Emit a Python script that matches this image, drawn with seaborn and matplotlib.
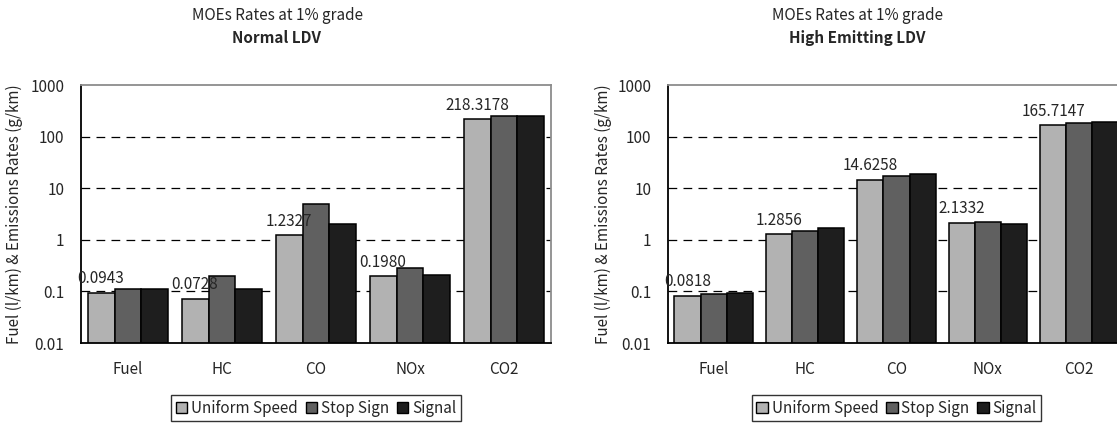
import matplotlib
matplotlib.use("Agg")
import matplotlib.pyplot as plt
import matplotlib.ticker as mticker
import seaborn as sns
import pandas as pd

# values (log scale)
categories = ['Fuel', 'HC', 'CO', 'NOx', 'CO2']
scenarios = ['Uniform Speed', 'Stop Sign', 'Signal']

normal_uniform = [0.0943, 0.0728, 1.2327, 0.1980, 218.3178]
normal_stop = [0.111, 0.196, 5.0, 0.284, 249.0]
normal_signal = [0.111, 0.111, 2.05, 0.208, 249.0]

high_uniform = [0.0818, 1.2856, 14.6258, 2.1332, 165.7147]
high_stop = [0.089, 1.50, 17.3, 2.21, 187.0]
high_signal = [0.093, 1.69, 19.0, 2.02, 188.0]

y_ticks = [0.01, 0.1, 1, 10, 100, 1000]
y_ticklabels = ['0.01', '0.1', '1', '10', '100', '1000']

colors = ['#b2b2b2', '#606060', '#1e1e1e']
subtitle = 'MOEs Rates at 1% grade'
ylabel = 'Fuel (l/km) & Emissions Rates (g/km)'
fs = 11


def make_frame(uniform, stop, signal):
    rows = []
    for name, vals in zip(scenarios, [uniform, stop, signal]):
        for cat, v in zip(categories, vals):
            rows.append({'pollutant': cat, 'scenario': name, 'value': v})
    return pd.DataFrame(rows)


sns.set_style('white')
plt.rcParams['font.family'] = ['Noto Sans CJK KR', 'DejaVu Sans']
plt.rcParams['font.size'] = fs

fig = plt.figure(figsize=(11.17, 4.26), dpi=100)
ax_left = fig.add_axes([81 / 1117, 83 / 426, 470 / 1117, 258 / 426])
ax_right = fig.add_axes([668 / 1117, 83 / 426, 457 / 1117, 258 / 426])

panels = [
    (ax_left, make_frame(normal_uniform, normal_stop, normal_signal), 'Normal LDV', 277),
    (ax_right, make_frame(high_uniform, high_stop, high_signal), 'High Emitting LDV', 857),
]

for ax, df, title, title_x in panels:
    ax.set_yscale('log')
    sns.barplot(data=df, x='pollutant', y='value', hue='scenario',
                order=categories, hue_order=scenarios, palette=colors,
                width=0.86, edgecolor='black', linewidth=1.1, ax=ax, zorder=2)
    ax.set_ylim(0.01, 1000)
    ax.set_xlim(-0.5, 4.5)
    ax.yaxis.set_major_locator(mticker.FixedLocator(y_ticks))
    ax.yaxis.set_major_formatter(mticker.FixedFormatter(y_ticklabels))
    ax.yaxis.set_minor_locator(mticker.NullLocator())
    ax.grid(False)
    # dashed lines only at the inner decades, not on the frame
    for yv in y_ticks[1:-1]:
        ax.axhline(yv, linestyle=(0, (7, 5)), color='black', linewidth=0.9, zorder=0)

    ax.set_xlabel('')
    ax.set_ylabel(ylabel, fontsize=fs)
    ax.yaxis.set_label_coords(-0.123, 0.5)

    ax.tick_params(axis='y', length=0, pad=12, labelsize=fs)
    ax.tick_params(axis='x', which='major', length=0, pad=13, labelsize=fs)
    ax.set_xticks([0.5, 1.5, 2.5, 3.5], minor=True)
    ax.tick_params(axis='x', which='minor', direction='in', length=5, width=1, color='black')

    for side in ['left', 'bottom']:
        ax.spines[side].set_color('black')
        ax.spines[side].set_linewidth(1.3)
    for side in ['top', 'right']:
        ax.spines[side].set_color('#8c8c8c')
        ax.spines[side].set_linewidth(1.3)

    # value labels on the uniform speed bars only
    ax.bar_label(ax.containers[0], fmt='%.4f', padding=4, fontsize=fs)

    leg = ax.legend(loc='center', bbox_to_anchor=(0.5, -0.252), ncol=3,
                    frameon=True, fancybox=False, edgecolor='black',
                    handlelength=0.75, handleheight=0.75, handletextpad=0.25,
                    columnspacing=0.5, borderpad=0.3, fontsize=fs)
    leg.get_frame().set_linewidth(1.0)
    for h in leg.legend_handles:
        h.set_edgecolor('black')
        h.set_linewidth(1.0)

    fig.text(title_x / 1117, 1 - 16 / 426, subtitle, ha='center', va='center', fontsize=fs)
    fig.text(title_x / 1117, 1 - 38 / 426, title, ha='center', va='center',
             fontsize=fs, fontweight='bold')

fig.savefig('out.png', dpi=100)
